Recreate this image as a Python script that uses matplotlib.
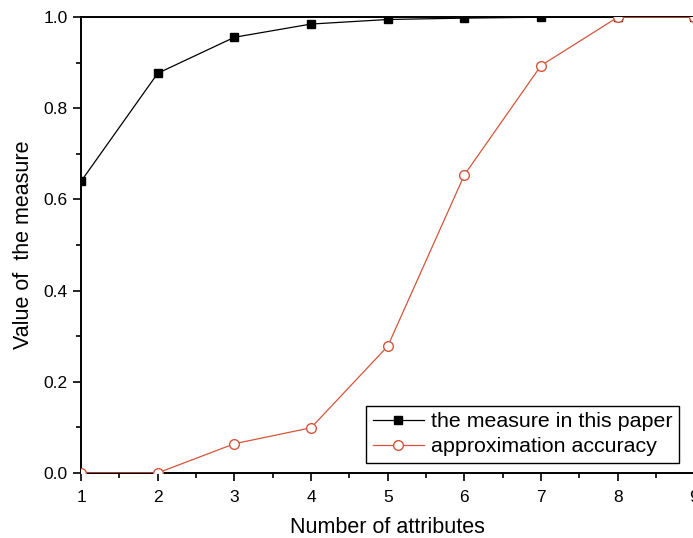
import numpy as np
import matplotlib.pyplot as plt
from matplotlib.ticker import MultipleLocator

plt.rcParams['font.family'] = ['Liberation Sans', 'DejaVu Sans']

attributes = [1, 2, 3, 4, 5, 6, 7, 8, 9]
measure_paper = [0.640, 0.877, 0.956, 0.985, 0.995, 0.998, 1.0, 1.0, 1.0]
approx_accuracy = [0.0, 0.0, 0.064, 0.099, 0.278, 0.654, 0.894, 1.0, 1.0]

red = '#d4553b'

fig = plt.figure(figsize=(6.93, 5.38), dpi=100)
ax = fig.add_axes([0.117, 0.121, 0.885, 0.847])

ax.plot(attributes, measure_paper, color='black', lw=0.9, marker='s', ms=6,
        mfc='black', mec='black', label='the measure in this paper', zorder=3)
ax.plot(attributes, approx_accuracy, color=red, lw=0.9, marker='o', ms=7,
        mfc='white', mec=red, label='approximation accuracy', zorder=3)

ax.set_xlim(1, 9)
ax.set_ylim(0, 1.0)
ax.xaxis.set_major_locator(MultipleLocator(1))
ax.xaxis.set_minor_locator(MultipleLocator(0.5))
ax.yaxis.set_major_locator(MultipleLocator(0.2))
ax.yaxis.set_minor_locator(MultipleLocator(0.1))
ax.tick_params(which='both', direction='out', width=1.2, labelsize=12.5)
ax.tick_params(which='major', length=6)
ax.tick_params(which='minor', length=3.5)
ax.tick_params(axis='x', pad=6)
ax.set_yticklabels(['%.1f' % v for v in ax.get_yticks()])

for side in ['left', 'bottom', 'top']:
    ax.spines[side].set_linewidth(1.4)
ax.spines['right'].set_visible(False)

ax.set_xlabel('Number of attributes', fontsize=15.5, labelpad=9)
ax.set_ylabel('Value of  the measure', fontsize=15.5, labelpad=7)

leg = ax.legend(loc='lower right', bbox_to_anchor=(0.9755, 0.022), borderaxespad=0,
                fontsize=15.4, fancybox=False, framealpha=1, edgecolor='black',
                handlelength=2.4, handletextpad=0.35, borderpad=0.3,
                labelspacing=0.3)
leg.get_frame().set_linewidth(1.0)

fig.savefig('out.png', dpi=100)
